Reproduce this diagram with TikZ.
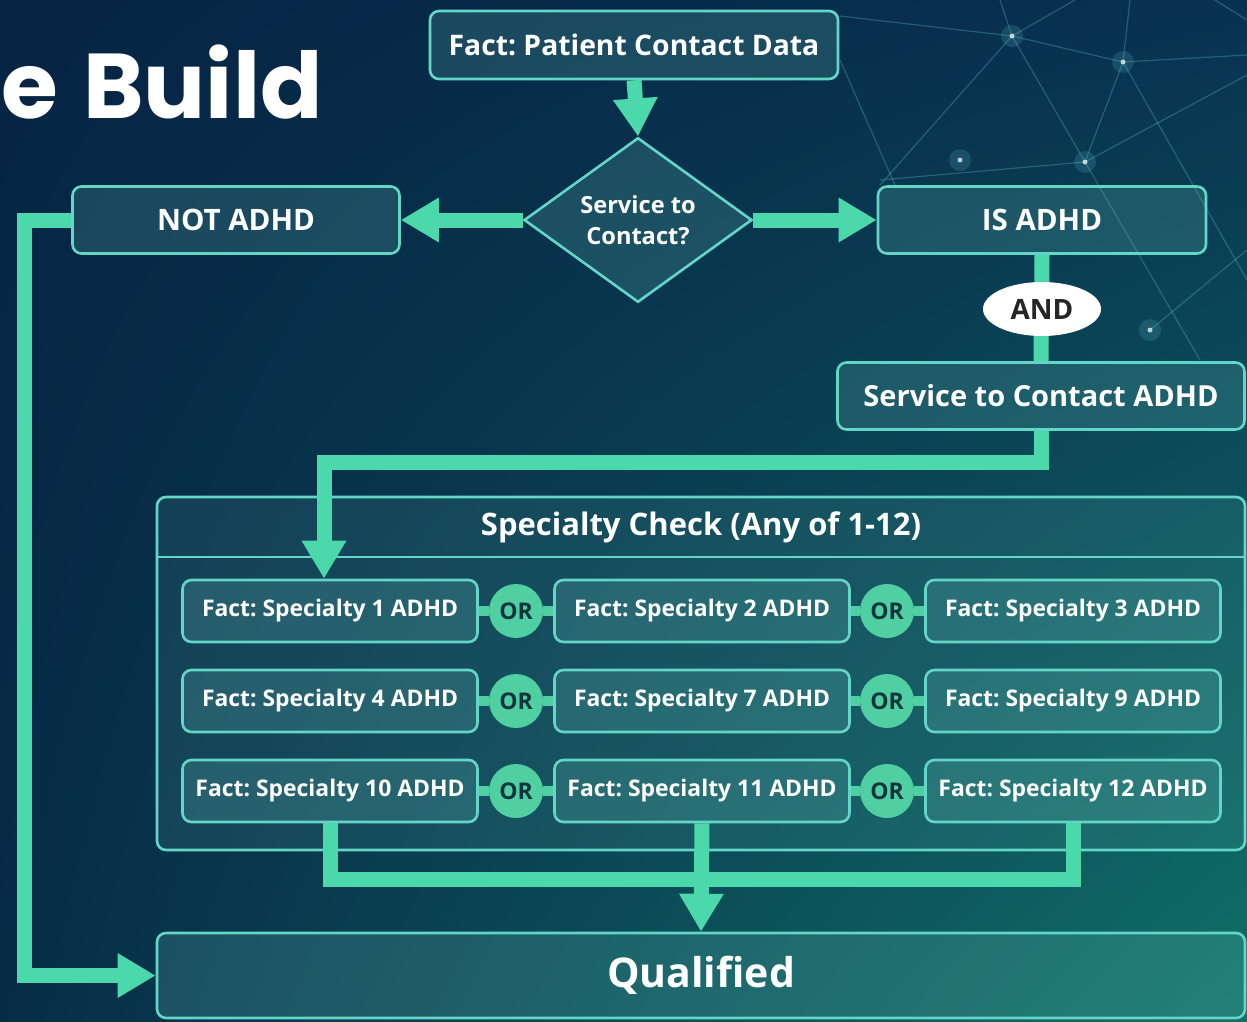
\documentclass[tikz,border=0pt]{standalone}
\usepackage{fontspec}
\setmainfont{Open Sans}
\newfontfamily\titlefont{Poppins}
\usetikzlibrary{arrows.meta,shapes.geometric,shadings}
\frenchspacing
\definecolor{connc}{RGB}{75,216,170}
\definecolor{bord}{RGB}{100,214,200}
\definecolor{boxf}{RGB}{110,200,190}
\definecolor{orc}{RGB}{80,208,162}
\definecolor{ortext}{RGB}{14,52,62}
\definecolor{bgA}{RGB}{6,36,68}
\definecolor{bgB}{RGB}{8,50,80}
\definecolor{bgC}{RGB}{7,44,72}
\definecolor{bgD}{RGB}{16,112,104}
\definecolor{netc}{RGB}{100,200,210}
\begin{document}
\begin{tikzpicture}[x=1pt,y=-1pt,
  box/.style={draw=bord, line width=2.6pt, rounded corners=9pt, fill=boxf, fill opacity=0.2, text opacity=1, text=white, inner sep=0pt},
  fbig/.style={font=\bfseries\fontsize{31}{36}\selectfont},
  fmid/.style={font=\bfseries\fontsize{29.5}{34}\selectfont},
  fsmall/.style={font=\bfseries\fontsize{22.9}{28}\selectfont},
  specbox/.style={box, minimum width=295pt, minimum height=62pt, fsmall},
  orbox/.style={circle, fill=orc, minimum size=54pt, inner sep=0pt, text=ortext, font=\bfseries\fontsize{23}{26}\selectfont},
  orbar/.style={draw=orc, line width=10pt},
  conn/.style={draw=connc, line width=15pt},
  arr/.style={conn, -{Triangle[width=42pt,length=38pt]}},
  netline/.style={draw=netc, line width=1.2pt, draw opacity=0.3}
]
\useasboundingbox (0,0) rectangle (1247,1021);
\shade[upper left=bgA, upper right=bgB, lower left=bgC, lower right=bgD] (0,0) rectangle (1247,1021);

% background network
\coordinate (p1) at (1012,36);
\coordinate (p2) at (1123,62);
\coordinate (p3) at (1085,162);
\coordinate (p4) at (1150,330);
\coordinate (p5) at (960,160);
\draw[netline] (840,16) -- (p1) -- (p2) -- (1247,55);
\draw[netline] (1000,0) -- (p1) -- (p3) -- (p2) -- (1130,0);
\draw[netline] (p1) -- (880,185);
\draw[netline] (p1) -- (1075,0);
\draw[netline] (p3) -- (1247,75);
\draw[netline] (p3) -- (880,180);
\draw[netline] (p2) -- (1247,280);
\draw[netline] (p3) -- (1200,360);
\draw[netline] (p4) -- (1247,250);
\draw[netline] (840,60) -- (895,185);
\draw[netline] (1215,0) -- (1247,20);
\foreach \p in {p1,p2,p3,p4,p5} {
  \fill[netc, opacity=0.18] (\p) circle (11pt);
  \fill[white, opacity=0.7] (\p) circle (2.5pt);
}

% title
\node[anchor=base west, inner sep=0pt, text=white, font=\titlefont\bfseries\fontsize{92}{92}\selectfont] (title) at (1,118) {e\kern6pt\ Build};

% top nodes
\node[box, font=\bfseries\fontsize{28.3}{34}\selectfont, minimum width=408pt, minimum height=68pt] (fact) at (634,45) {Fact: Patient Contact Data};
\node[diamond, draw=bord, line width=2.6pt, fill=boxf, fill opacity=0.2, text opacity=1, text=white, minimum width=228pt, minimum height=152pt, inner sep=0pt, align=center, font=\bfseries\fontsize{23.6}{31}\selectfont] (dia) at (638,220) {Service to\\Contact?};
\node[box, fmid, minimum width=327pt, minimum height=67pt] (notadhd) at (236,220) {NOT ADHD};
\node[box, fmid, minimum width=328pt, minimum height=67pt] (isadhd) at (1042,220) {IS ADHD};
\node[box, font=\bfseries\fontsize{29}{34}\selectfont, minimum width=407pt, minimum height=67pt] (svc) at (1041,396) {Service to Contact ADHD};

% specialty container
\node[box, fill opacity=0.12, minimum width=1088pt, minimum height=353pt] (spec) at (701,673.5) {};
\draw[draw=bord, line width=2.6pt] (spec.west |- 0,557) -- (spec.east |- 0,557);
\node[text=white, fbig] (spectitle) at (701,527) {Specialty Check (Any of 1-12)};

\node[specbox] (s1) at (330,611) {Fact: Specialty 1 ADHD};
\node[specbox] (s2) at (702,611) {Fact: Specialty 2 ADHD};
\node[specbox] (s3) at (1073,611) {Fact: Specialty 3 ADHD};
\node[specbox] (s4) at (330,701) {Fact: Specialty 4 ADHD};
\node[specbox] (s7) at (702,701) {Fact: Specialty 7 ADHD};
\node[specbox] (s9) at (1073,701) {Fact: Specialty 9 ADHD};
\node[specbox] (s10) at (330,791) {Fact: Specialty 10 ADHD};
\node[specbox] (s11) at (702,791) {Fact: Specialty 11 ADHD};
\node[specbox] (s12) at (1073,791) {Fact: Specialty 12 ADHD};

\node[orbox] (or1) at (516,611) {OR};
\node[orbox] (or2) at (887,611) {OR};
\node[orbox] (or3) at (516,701) {OR};
\node[orbox] (or4) at (887,701) {OR};
\node[orbox] (or5) at (516,791) {OR};
\node[orbox] (or6) at (887,791) {OR};
\draw[orbar] (s1.east) -- (or1.west);
\draw[orbar] (or1.east) -- (s2.west);
\draw[orbar] (s2.east) -- (or2.west);
\draw[orbar] (or2.east) -- (s3.west);
\draw[orbar] (s4.east) -- (or3.west);
\draw[orbar] (or3.east) -- (s7.west);
\draw[orbar] (s7.east) -- (or4.west);
\draw[orbar] (or4.east) -- (s9.west);
\draw[orbar] (s10.east) -- (or5.west);
\draw[orbar] (or5.east) -- (s11.west);
\draw[orbar] (s11.east) -- (or6.west);
\draw[orbar] (or6.east) -- (s12.west);

% qualified
\node[box, font=\bfseries\fontsize{41}{46}\selectfont, minimum width=1088pt, minimum height=85pt] (qual) at (701,975.5) {Qualified};

% connectors
\draw[arr] (fact.south) -- (dia.north);
\draw[arr] (dia.west) -- (notadhd.east);
\draw[arr] (dia.east) -- (isadhd.west);
\draw[conn] (isadhd.south) -- (svc.north);
\node[ellipse, fill=white, minimum width=118pt, minimum height=54pt, inner sep=0pt, text=black!85, font=\bfseries\fontsize{28}{30}\selectfont] (and) at (1042,309) {AND};
\draw[arr] (svc.south) -- ++(0,32) -| ([xshift=-6pt]s1.north);
\draw[conn] (s10.south) -- ++(0,56) -| (s12.south);
\draw[arr] (s11.south) -- (qual.north);
\coordinate (lc) at (24,220);
\draw[arr] (notadhd.west) -- (lc) |- (qual.west);
\end{tikzpicture}
\end{document}
